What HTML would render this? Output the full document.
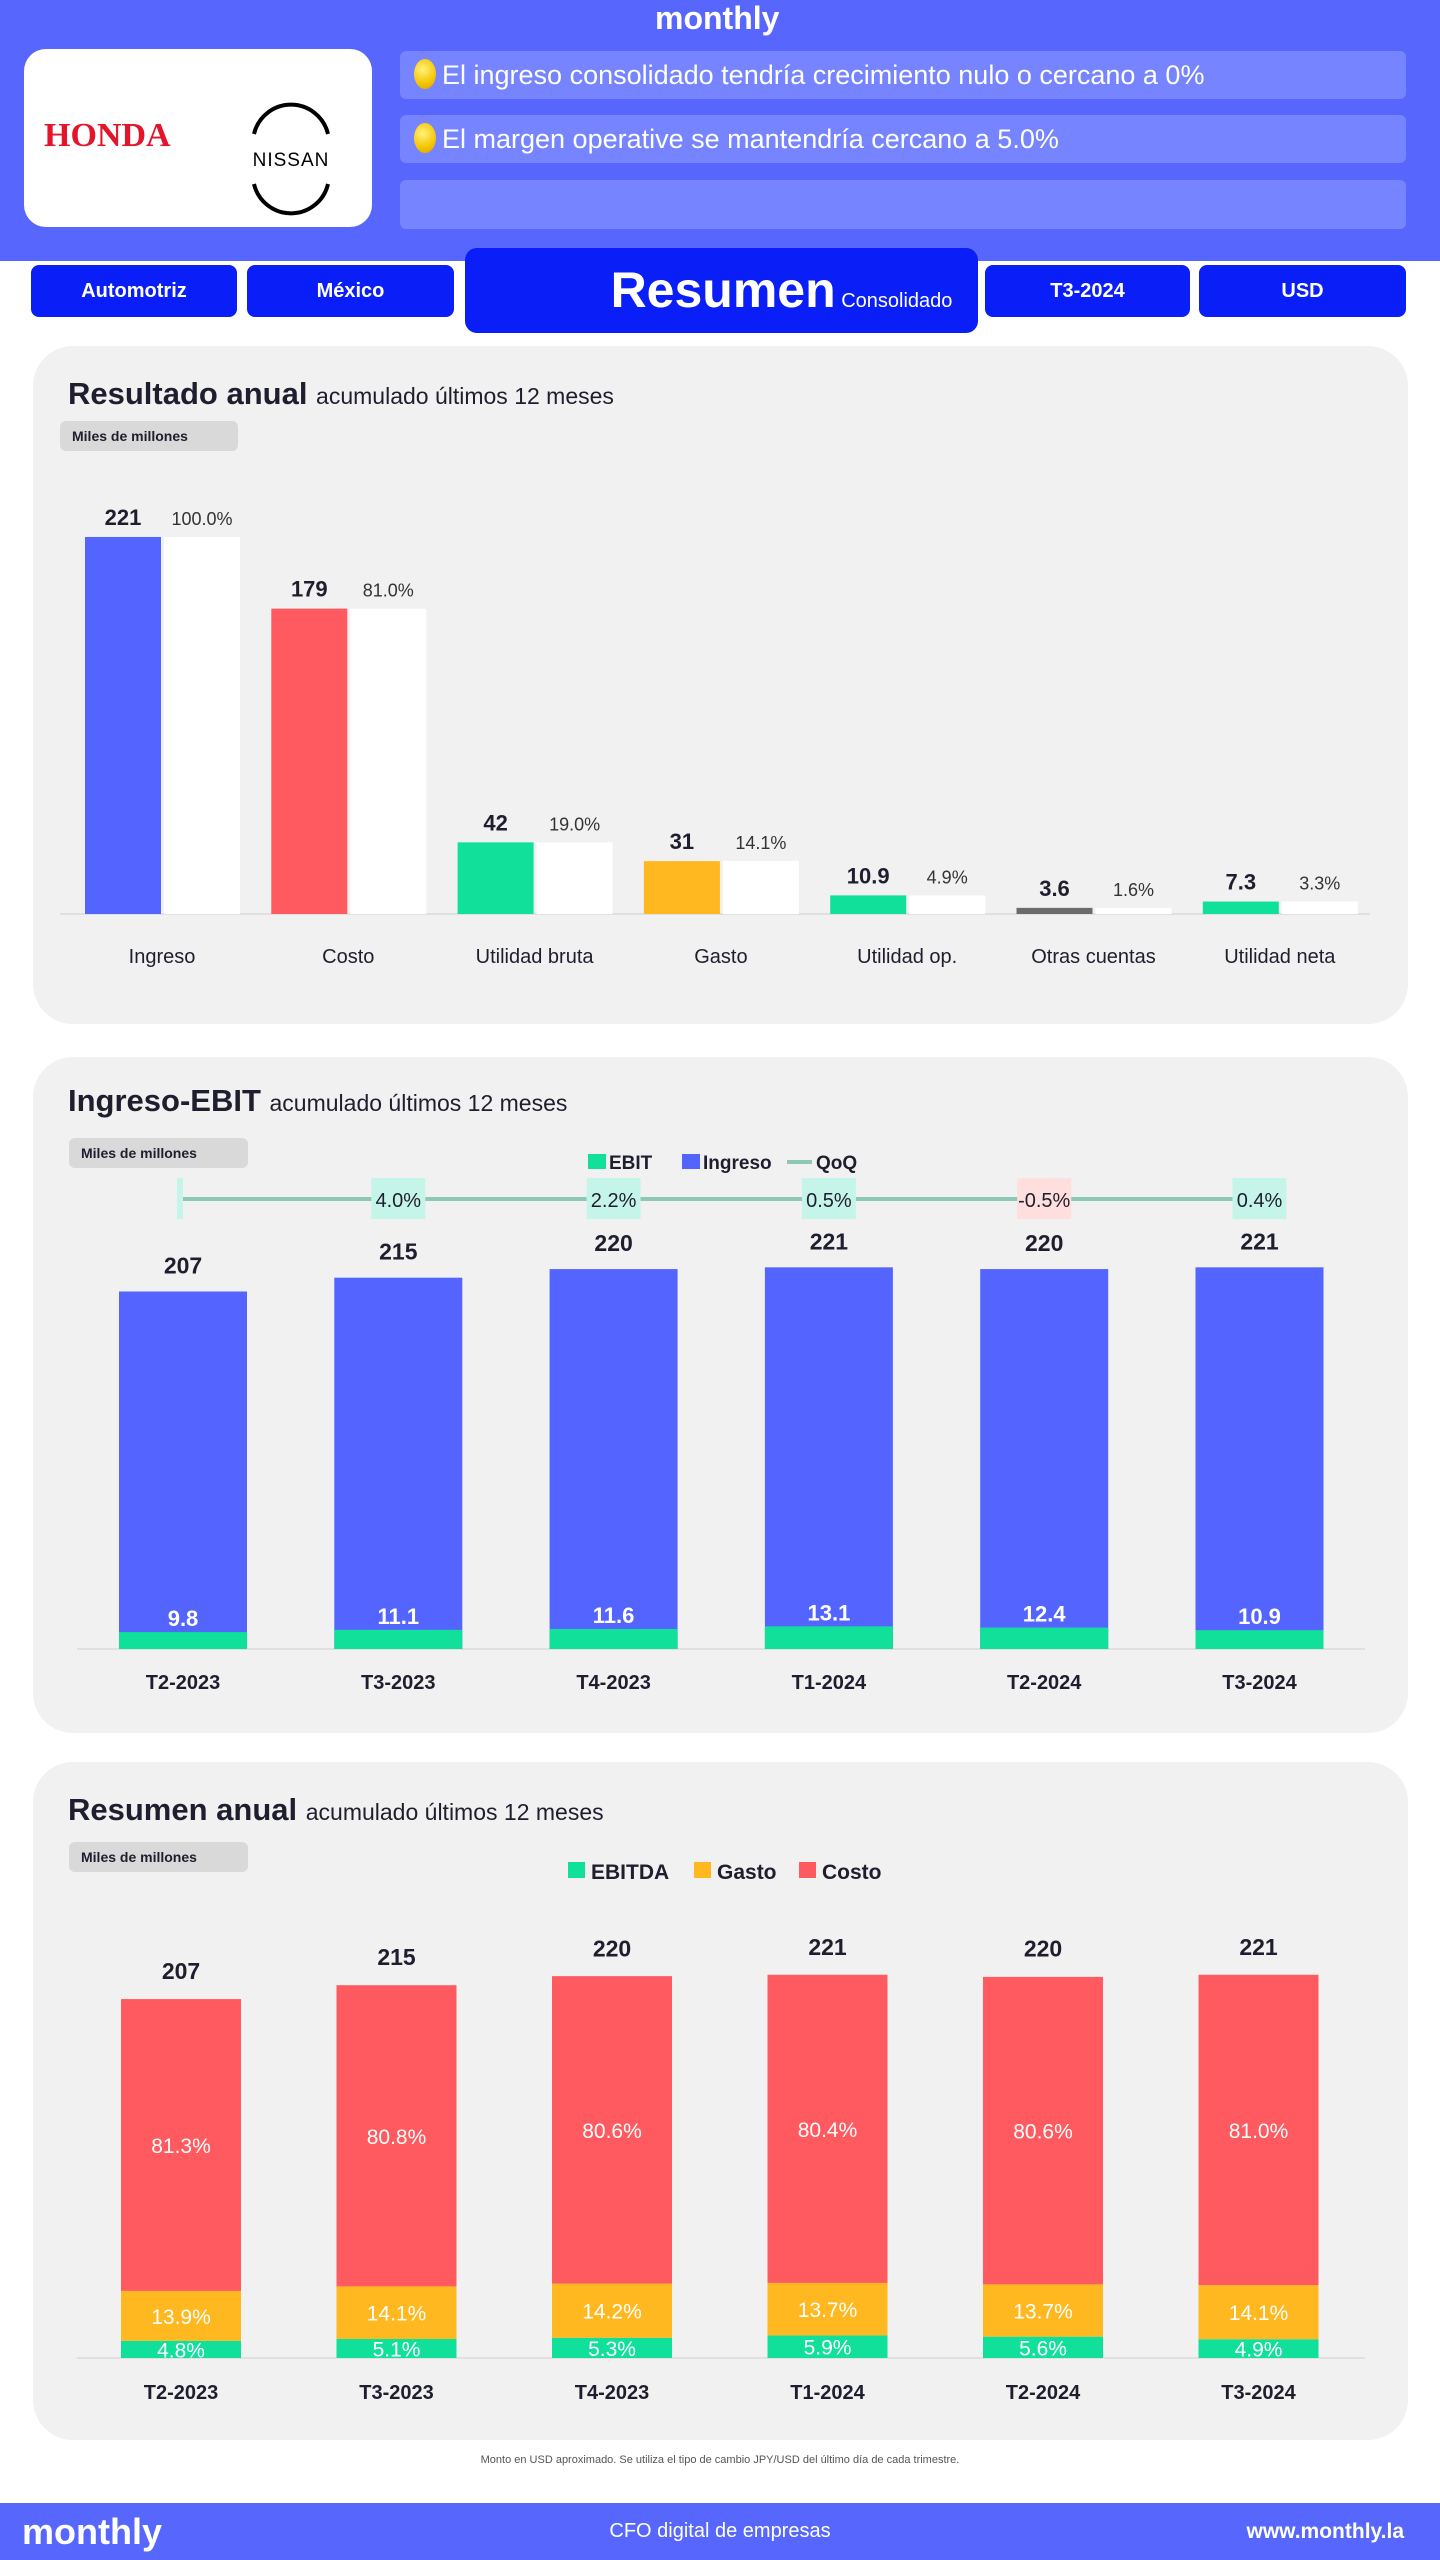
<!DOCTYPE html>
<html><head><meta charset="utf-8">
<style>
*{box-sizing:border-box;margin:0;padding:0}
body{width:1440px;height:2560px;background:#fff;font-family:"Liberation Sans",sans-serif;position:relative;overflow:hidden;color:#1e1e2e}
.abs{position:absolute}
.header{left:0;top:0;width:1440px;height:261px;background:#5767fd}
.bullet{left:400px;width:1006px;height:48px;background:#7684ff;border-radius:6px;color:#fff;font-size:27px;line-height:48px;padding-left:14px}
.dot{display:inline-block;width:22px;height:30px;border-radius:50%;background:radial-gradient(circle at 40% 35%,#fff27a,#f4c400 60%,#d9a000);vertical-align:-5px;margin-right:6px}
.nav{background:#0a1ef7;color:#fff;border-radius:8px;font-weight:bold;font-size:20px;text-align:center;line-height:52px;top:265px;height:52px}
.card{left:33px;width:1375px;background:#f1f1f1;border-radius:40px}
.title{font-size:31px;font-weight:bold;color:#1e1e2e}
.title span{font-size:23px;font-weight:normal}
.chip{background:#d9d9d9;border-radius:6px;font-size:14px;font-weight:bold;padding-left:12px;line-height:30px;height:30px}
</style></head><body>
<div class="abs header"></div>
<div class="abs" style="left:655px;top:0;color:#fff;font-weight:bold;font-size:32px">monthly</div>
<div class="abs" style="left:24px;top:49px;width:348px;height:178px;background:#fff;border-radius:22px">
 <div class="abs" style="left:20px;top:68px;color:#e4142b;font-family:'Liberation Serif',serif;font-weight:bold;font-size:34px">HONDA</div>
 <div class="abs" style="left:100px;top:46px;width:0;height:0"></div>
 <svg class="abs" style="left:212px;top:40px" width="110" height="140"><path d="M18 45 A38 38 0 0 1 92 45" fill="none" stroke="#000" stroke-width="4"/><path d="M18 95 A38 38 0 0 0 92 95" fill="none" stroke="#000" stroke-width="4"/><text x="55" y="77" text-anchor="middle" font-size="19" font-family="Liberation Sans" letter-spacing="1">NISSAN</text></svg>
</div>
<div class="abs bullet" style="top:51px"><span class="dot"></span>El ingreso consolidado tendría crecimiento nulo o cercano a 0%</div>
<div class="abs bullet" style="top:115px"><span class="dot"></span>El margen operative se mantendría cercano a 5.0%</div>
<div class="abs bullet" style="top:180px;height:49px"></div>
<div class="abs nav" style="left:31px;width:206px">Automotriz</div>
<div class="abs nav" style="left:247px;width:207px">México</div>
<div class="abs nav" style="left:465px;width:513px;top:248px;height:85px;border-radius:12px;line-height:85px"><span style="font-size:50px;margin-left:120px">Resumen</span> <span style="font-size:20px;font-weight:normal">Consolidado</span></div>
<div class="abs nav" style="left:985px;width:205px">T3-2024</div>
<div class="abs nav" style="left:1199px;width:207px">USD</div>

<div class="abs card" style="top:346px;height:678px"></div>
<div class="abs title" style="left:68px;top:376px">Resultado anual <span>acumulado últimos 12 meses</span></div>
<div class="abs chip" style="left:60px;top:421px;width:178px">Miles de millones</div>
<svg id="c1" class="abs" style="left:0;top:0" width="1440" height="1040"></svg>

<div class="abs card" style="top:1057px;height:676px"></div>
<div class="abs title" style="left:68px;top:1083px">Ingreso-EBIT <span>acumulado últimos 12 meses</span></div>
<div class="abs chip" style="left:69px;top:1138px;width:179px">Miles de millones</div>
<svg id="c2" class="abs" style="left:0;top:0" width="1440" height="1740"></svg>

<div class="abs card" style="top:1762px;height:678px"></div>
<div class="abs title" style="left:68px;top:1792px">Resumen anual <span>acumulado últimos 12 meses</span></div>
<div class="abs chip" style="left:69px;top:1842px;width:179px">Miles de millones</div>
<svg id="c3" class="abs" style="left:0;top:0" width="1440" height="2440"></svg>

<div class="abs" style="left:0;top:2454px;width:1440px;text-align:center;font-size:11px;color:#555">Monto en USD aproximado. Se utiliza el tipo de cambio JPY/USD del último día de cada trimestre.</div>
<div class="abs" style="left:0;top:2503px;width:1440px;height:57px;background:#5767fd;color:#fff">
 <div class="abs" style="left:22px;top:8px;font-size:36px;font-weight:bold">monthly</div>
 <div class="abs" style="left:0;width:1440px;text-align:center;top:17px;font-size:20px">CFO digital de empresas</div>
 <div class="abs" style="right:36px;top:17px;font-size:21px;font-weight:bold">www.monthly.la</div>
</div>

<script>
const NS='http://www.w3.org/2000/svg';
function mk(svg,tag,attrs,text){const e=document.createElementNS(NS,tag);for(const k in attrs)e.setAttribute(k,attrs[k]);if(text!==undefined)e.textContent=text;svg.appendChild(e);return e;}
const F='Liberation Sans, sans-serif';

// Chart 1
const c1Cats=['Ingreso','Costo','Utilidad bruta','Gasto','Utilidad op.','Otras cuentas','Utilidad neta'];
const c1Vals=[221,179,42,31,10.9,3.6,7.3];
const c1Labels=['221','179','42','31','10.9','3.6','7.3'];
const c1Pcts=[100.0,81.0,19.0,14.1,4.9,1.6,3.3];
const c1Colors=['#5465ff','#ff5a5f','#10e09a','#ffb81f','#10e09a','#6b6b6b','#10e09a'];
(function(){
 const s=document.getElementById('c1');const base=914,k=1.706,x0=162,dx=186.3;
 const y=v=>base-v*k;
 mk(s,'line',{x1:60,x2:1370,y1:base,y2:base,stroke:'#d0d0d0','stroke-width':1});
 c1Vals.forEach((v,i)=>{
  const cx=x0+i*dx;
  const b=mk(s,'rect',{x:cx-77,y:y(v),width:76,height:v*k,fill:c1Colors[i]});
  
  
  const pv=c1Pcts[i]/100*c1Vals[0];
  const w=mk(s,'rect',{x:cx+2,y:y(pv),width:76,height:pv*k,fill:'#fff'});
  
  
  mk(s,'text',{x:cx-39,y:Math.min(y(v),y(pv))-12,'text-anchor':'middle','font-size':22,'font-weight':'bold','font-family':F,fill:'#1e1e2e'},c1Labels[i]);
  mk(s,'text',{x:cx+40,y:Math.min(y(v),y(pv))-12,'text-anchor':'middle','font-size':18,'font-family':F,fill:'#333'},c1Pcts[i].toFixed(1)+'%');
  mk(s,'text',{x:cx,y:963,'text-anchor':'middle','font-size':20,'font-family':F,fill:'#1e1e2e'},c1Cats[i]);
 });
})();

// Chart 2
const c2Cats=['T2-2023','T3-2023','T4-2023','T1-2024','T2-2024','T3-2024'];
const c2Rev=[207,215,220,221,220,221];
const c2Ebit=[9.8,11.1,11.6,13.1,12.4,10.9];
const c2Qoq=[null,4.0,2.2,0.5,-0.5,0.4];
(function(){
 const s=document.getElementById('c2');const base=1649,k=1.727,x0=183,dx=215.3,bw=128;
 const y=v=>base-v*k;
 mk(s,'line',{x1:77,x2:1365,y1:base,y2:base,stroke:'#d0d0d0','stroke-width':1});
 // legend
 const lg=[['#10e09a','EBIT',588],['#5465ff','Ingreso',682]];
 lg.forEach(l=>{mk(s,'rect',{x:l[2],y:1154,width:18,height:15,fill:l[0]});mk(s,'text',{x:l[2]+21,y:1169,'font-size':19,'font-weight':'bold','font-family':F,fill:'#1e1e2e'},l[1]);});
 mk(s,'line',{x1:787,x2:812,y1:1162,y2:1162,stroke:'#8cc9b3','stroke-width':4});
 mk(s,'text',{x:816,y:1169,'font-size':19,'font-weight':'bold','font-family':F,fill:'#1e1e2e'},'QoQ');
 mk(s,'line',{x1:x0,x2:x0+5*dx,y1:1199,y2:1199,stroke:'#8cc9b3','stroke-width':4});
 c2Rev.forEach((v,i)=>{
  const cx=x0+i*dx;
  const b=mk(s,'rect',{x:cx-bw/2,y:y(v),width:bw,height:v*k,fill:'#5465ff'});
  
  
  const e=mk(s,'rect',{x:cx-bw/2,y:y(c2Ebit[i]),width:bw,height:c2Ebit[i]*k,fill:'#10e09a'});
  
  
  mk(s,'text',{x:cx,y:y(v)-18,'text-anchor':'middle','font-size':23,'font-weight':'bold','font-family':F,fill:'#1e1e2e'},String(v));
  mk(s,'text',{x:cx,y:y(c2Ebit[i])-6,'text-anchor':'middle','font-size':22,'font-weight':'bold','font-family':F,fill:'#fff'},c2Ebit[i].toFixed(1));
  mk(s,'text',{x:cx,y:1689,'text-anchor':'middle','font-size':20,'font-weight':'bold','font-family':F,fill:'#1e1e2e'},c2Cats[i]);
  const q=c2Qoq[i];
  if(q===null){mk(s,'rect',{x:cx-6,y:1178,width:6,height:41,fill:'#c5f5e8'});}
  else{const bx=mk(s,'rect',{x:cx-27,y:1178,width:54,height:41,fill:q<0?'#ffdede':'#c5f5e8'});
   
   
   mk(s,'text',{x:cx,y:1207,'text-anchor':'middle','font-size':20,'font-family':F,fill:'#1e1e2e'},q.toFixed(1)+'%');}
 });
})();

// Chart 3
const c3Cats=['T2-2023','T3-2023','T4-2023','T1-2024','T2-2024','T3-2024'];
const c3Tot=[207,215,220,221,220,221];
const c3Ebitda=[4.8,5.1,5.3,5.9,5.6,4.9];
const c3Gasto=[13.9,14.1,14.2,13.7,13.7,14.1];
const c3Costo=[81.3,80.8,80.6,80.4,80.6,81.0];
(function(){
 const s=document.getElementById('c3');const base=2358,k=1.734,x0=181,dx=215.5,bw=120;
 mk(s,'line',{x1:77,x2:1365,y1:base,y2:base,stroke:'#d0d0d0','stroke-width':1});
 const lg=[['#10e09a','EBITDA',568],['#ffb81f','Gasto',694],['#ff5a5f','Costo',799]];
 lg.forEach(l=>{mk(s,'rect',{x:l[2],y:1862,width:17,height:16,fill:l[0]});mk(s,'text',{x:l[2]+23,y:1879,'font-size':21,'font-weight':'bold','font-family':F,fill:'#1e1e2e'},l[1]);});
 c3Tot.forEach((t,i)=>{
  const cx=x0+i*dx;const h=t*k;let yb=base;
  const segs=[[c3Ebitda[i],'#10e09a','ebitda'],[c3Gasto[i],'#ffb81f','gasto'],[c3Costo[i],'#ff5a5f','costo']];
  segs.forEach(sg=>{
   const sh=sg[0]/100*h;
   const r=mk(s,'rect',{x:cx-bw/2,y:yb-sh,width:bw,height:sh,fill:sg[1]});
   
   
   mk(s,'text',{x:cx,y:yb-sh/2+8,'text-anchor':'middle','font-size':21,'font-family':F,fill:'#fff'},sg[0].toFixed(1)+'%');
   yb-=sh;
  });
  mk(s,'text',{x:cx,y:base-h-20,'text-anchor':'middle','font-size':23,'font-weight':'bold','font-family':F,fill:'#1e1e2e'},String(t));
  mk(s,'text',{x:cx,y:2399,'text-anchor':'middle','font-size':20,'font-weight':'bold','font-family':F,fill:'#1e1e2e'},c3Cats[i]);
 });
})();
</script>
</body></html>
